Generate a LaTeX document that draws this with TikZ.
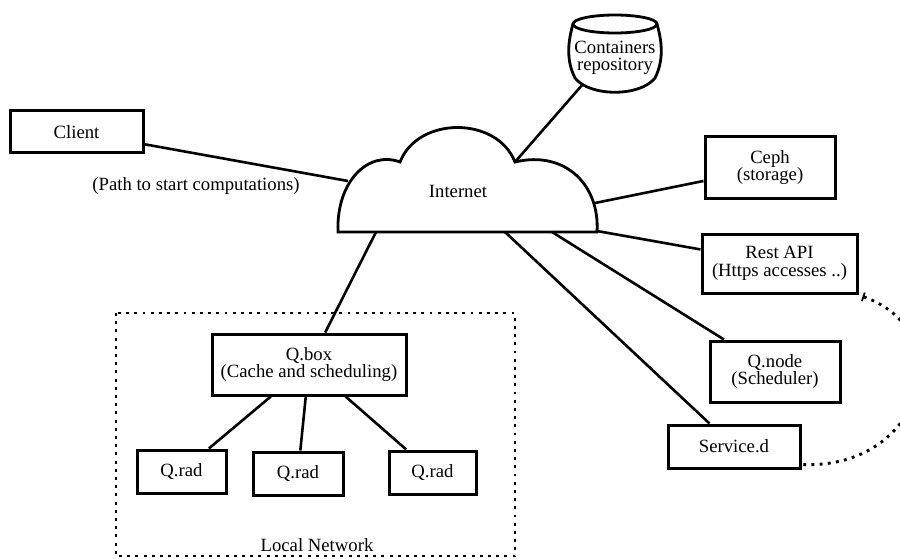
\documentclass[tikz,border=0pt]{standalone}
\usepackage{fontspec}
\setmainfont{Liberation Serif}
\usetikzlibrary{arrows.meta}
\begin{document}
\begin{tikzpicture}[x=1pt,y=-1pt,
  every node/.style={font=\fontsize{18.7}{17.5}\selectfont, align=center},
  box/.style={draw, line width=3pt, inner sep=0pt},
  link/.style={line width=2.6pt},
  outline/.style={line width=2.8pt},
  dotline/.style={line width=2.9pt, dash pattern=on 2.9pt off 5.3pt}]
\useasboundingbox (0,0) rectangle (900,559);

% Local network frame
\draw[dotline] (116,313) rectangle (515,556);
\node (lnet) at (317,545) {Local Network};

% Cloud
\draw[outline, fill=white] (338,232) .. controls (336,182) and (368,150) .. (400,162)
  .. controls (418,116) and (497,116) .. (515,162)
  .. controls (565,150) and (600,185) .. (597,232) -- cycle;
\node (inet) at (458,191) {Internet};
\coordinate (cL) at (348,181);
\coordinate (cTop) at (515,162);
\coordinate (cR1) at (595,203);
\coordinate (cR2) at (597,231);
\coordinate (cB1) at (552,232);
\coordinate (cB2) at (505,232);
\coordinate (cB3) at (376,232);

% Cylinder
\draw[outline] (573,24) .. controls (567,45) and (567,62) .. (575,78)
  .. controls (590,97) and (640,97) .. (655,78)
  .. controls (663,62) and (663,45) .. (657,24);
\draw[outline] (615,24) ellipse [x radius=42, y radius=9];
\node (repo) at (615,58) {Containers\\repository};
\coordinate (repoB) at (583,84);

% Boxes
\node[box, minimum width=133, minimum height=42] (client) at (76.5,132) {Client};
\node[box, minimum width=130, minimum height=61] (ceph) at (770,167.5) {Ceph\\(storage)};
\node[box, minimum width=155, minimum height=59] (rest) at (779.5,263.5) {Rest API\\(Https accesses ..)};
\node[box, minimum width=130, minimum height=61] (qnode) at (775,371.5) {Q.node\\(Scheduler)};
\node[box, minimum width=132, minimum height=43] (serviced) at (734,446.5) {Service.d};
\node[box, minimum width=194, minimum height=61] (qbox) at (309,364.5) {Q.box\\(Cache and scheduling)};
\node[box, minimum width=89, minimum height=43] (qrad1) at (181.5,471.5) {Q.rad};
\node[box, minimum width=90, minimum height=43] (qrad2) at (298,473.5) {Q.rad};
\node[box, minimum width=87, minimum height=43] (qrad3) at (432.5,472.5) {Q.rad};

\node (path) at (196,186) {(Path to start computations)};

% Connectors
\draw[link] (client) -- (cL);
\draw[link] (repoB) -- (cTop);
\draw[link] (ceph) -- (cR1);
\draw[link] (rest) -- (cR2);
\draw[link] (qnode) -- (cB1);
\draw[link] (serviced) -- (cB2);
\draw[link] (qbox) -- (cB3);
\draw[link] (qbox) -- (qrad1);
\draw[link] (qbox) -- (qrad2);
\draw[link] (qbox) -- (qrad3);

% Dotted link
\draw[dotline, {Bar[width=9pt,line width=1.8pt]}-] ([xshift=4pt,yshift=-2pt]rest.south east)
  .. controls (960,330) and (925,470) .. ([yshift=5pt]serviced.south east);
\end{tikzpicture}
\end{document}
